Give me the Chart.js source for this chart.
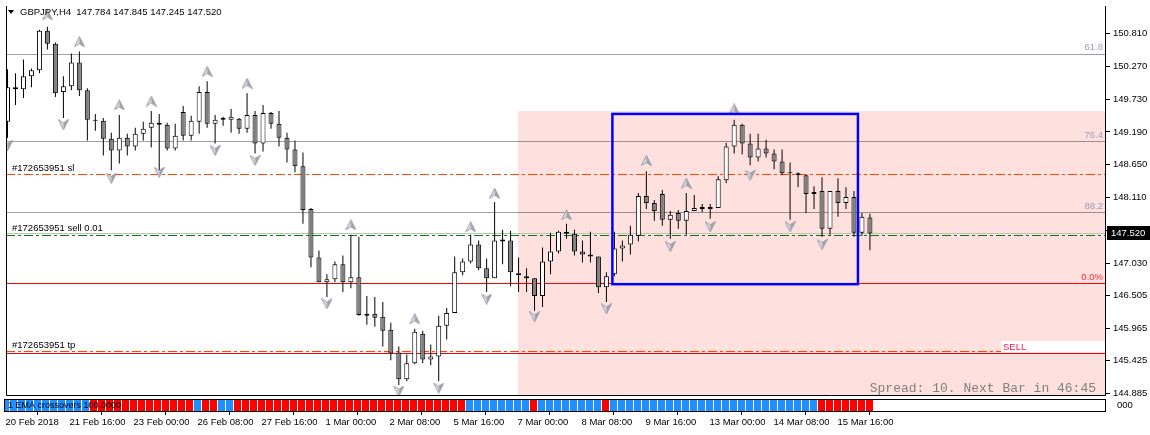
<!DOCTYPE html>
<html>
<head>
<meta charset="utf-8">
<script src="https://cdn.jsdelivr.net/npm/chart.js@4.4.1/dist/chart.umd.min.js"></script>
<style>
  html, body { margin: 0; padding: 0; background: #fff; }
  #wrap { position: relative; width: 1150px; height: 435px; overflow: hidden; }
  canvas { position: absolute; left: 0; }
  #main { top: 0; }
  #sub { top: 399px; }
</style>
</head>
<body>
<div id="wrap">
  <canvas id="main" width="1150" height="402"></canvas>
  <canvas id="sub" width="1150" height="36"></canvas>
</div>
<script>
// GBPJPY H4 candles, bar 0 = 20 Feb 2018 08:00
const opens = [
  149.356, 149.926, 149.893, 150.105, 150.203, 150.854, 150.642, 149.845, 149.942, 150.333,
  149.877, 149.389, 149.372, 149.079, 148.884, 149.096, 148.949, 149.161, 149.258, 149.340,
  149.307, 148.917, 149.519, 149.128, 149.356, 149.845, 149.324, 149.389, 149.389, 149.405,
  149.242, 149.470, 148.998, 149.503, 149.324, 149.096, 148.900, 148.624, 147.923, 147.126,
  146.719, 146.768, 147.012, 146.719, 146.800, 146.198, 146.198, 146.149, 145.937, 145.563,
  145.123, 145.384, 145.872, 145.449, 145.498, 146.002, 146.214, 146.882, 147.061, 147.337,
  146.947, 146.784, 147.419, 147.403, 146.865, 146.816, 146.784, 146.491, 147.061, 147.223,
  147.549, 147.516, 147.223, 147.175, 147.142, 146.637, 146.849, 147.272, 147.337, 147.484,
  148.135, 148.021, 148.168, 147.744, 147.858, 147.728, 147.891, 147.956, 147.956, 147.940,
  148.396, 148.949, 149.307, 148.998, 148.770, 148.917, 148.835, 148.705, 148.526, 148.510,
  148.477, 148.168, 148.217, 147.598, 148.217, 148.021, 148.119, 147.533, 147.784
];
const highs = [
  150.219, 150.154, 150.382, 150.235, 150.870, 150.919, 150.660, 150.105, 150.479, 150.512,
  149.910, 149.486, 149.421, 149.177, 149.470, 149.161, 149.258, 149.356, 149.535, 149.486,
  149.340, 149.324, 149.617, 149.454, 149.942, 150.024, 149.470, 149.438, 149.568, 149.421,
  149.828, 149.535, 149.633, 149.519, 149.535, 149.177, 149.047, 148.851, 147.940, 147.240,
  146.849, 147.061, 147.158, 147.500, 147.468, 146.491, 146.475, 146.393, 146.051, 145.661,
  145.530, 145.954, 145.921, 145.693, 146.165, 146.295, 147.142, 147.109, 147.500, 147.403,
  147.109, 148.037, 147.582, 147.565, 147.126, 146.947, 146.784, 147.289, 147.533, 147.565,
  147.679, 147.582, 147.403, 147.549, 147.142, 146.882, 147.549, 147.403, 147.647, 148.184,
  148.542, 148.070, 148.233, 147.891, 147.907, 148.184, 148.151, 148.005, 148.005, 148.461,
  149.014, 149.389, 149.324, 149.161, 149.161, 149.063, 148.900, 148.900, 148.689, 148.526,
  148.477, 148.298, 148.444, 148.217, 148.428, 148.282, 148.217, 147.858, 147.845
];
const lows = [
  149.096, 149.633, 149.747, 149.926, 150.154, 150.545, 149.763, 149.421, 149.877, 149.779,
  149.047, 149.210, 148.803, 148.558, 148.672, 148.803, 148.884, 149.047, 148.933, 148.510,
  148.884, 148.884, 149.047, 149.047, 149.161, 149.258, 148.998, 149.291, 149.177, 149.161,
  149.177, 148.835, 148.868, 149.242, 148.949, 148.689, 148.526, 147.679, 146.963, 146.719,
  146.475, 146.719, 146.556, 146.621, 146.165, 146.019, 145.986, 145.661, 145.433, 145.026,
  145.091, 145.368, 145.384, 145.351, 145.091, 145.775, 146.214, 146.833, 147.028, 146.914,
  146.556, 146.784, 147.012, 146.654, 146.556, 146.556, 146.247, 146.312, 146.849, 147.191,
  147.435, 147.158, 147.044, 147.044, 146.540, 146.393, 146.816, 147.061, 147.175, 147.386,
  147.923, 147.728, 147.647, 147.435, 147.598, 147.500, 147.891, 147.875, 147.761, 147.940,
  148.347, 148.835, 148.819, 148.640, 148.705, 148.770, 148.575, 148.477, 147.744, 148.282,
  147.858, 147.923, 147.468, 147.500, 147.793, 147.923, 147.468, 147.484, 147.245
];
const closes = [
  149.926, 149.893, 150.105, 150.203, 150.854, 150.642, 149.828, 149.942, 150.333, 149.877,
  149.389, 149.372, 149.079, 148.884, 149.096, 148.949, 149.161, 149.242, 149.340, 149.307,
  148.917, 149.128, 149.128, 149.372, 149.845, 149.324, 149.389, 149.421, 149.438, 149.242,
  149.470, 148.998, 149.503, 149.324, 149.096, 148.900, 148.624, 147.907, 147.126, 146.719,
  146.768, 147.012, 146.719, 146.800, 146.180, 146.165, 146.133, 145.921, 145.547, 145.123,
  145.384, 145.905, 145.449, 145.498, 146.002, 146.214, 146.882, 147.061, 147.337, 146.947,
  146.784, 147.403, 147.386, 146.882, 146.833, 146.784, 146.491, 147.061, 147.223, 147.549,
  147.516, 147.223, 147.175, 147.142, 146.637, 146.816, 147.272, 147.321, 147.500, 148.135,
  148.021, 147.891, 147.744, 147.826, 147.728, 147.891, 147.940, 147.923, 147.923, 148.412,
  148.949, 149.307, 148.998, 148.770, 148.917, 148.835, 148.705, 148.510, 148.510, 148.477,
  148.168, 148.200, 147.598, 148.217, 148.021, 148.119, 147.533, 147.793, 147.520
];

// fractal-style arrows (bar index, price)
const upArrowIdx   = [5, 9, 14, 18, 25, 30, 43, 51, 58, 61, 70, 80, 85, 91];
const upArrowPrice = [151.114, 150.675, 149.633, 149.698, 150.186, 149.991, 147.663, 146.116,
                      147.630, 148.184, 147.826, 148.721, 148.347, 149.568];
const downArrowIdx   = [0, 7, 13, 19, 26, 31, 40, 49, 54, 60, 66, 75, 83, 88, 93, 98, 102];
const downArrowPrice = [148.965, 149.307, 148.428, 148.526, 148.884, 148.721, 146.361, 144.928,
                        144.977, 146.442, 146.149, 146.279, 147.305, 147.630, 148.477, 147.630, 147.337];

// EMA crossovers histogram: 1 = up (blue), -1 = down (red)
const emaTrend = [
   1,  1,  1,  1,  1,  1,  1,  1,  1,  1,  1, -1, -1, -1, -1, -1, -1, -1, -1, -1,
  -1, -1, -1, -1,  1, -1, -1,  1,  1, -1, -1, -1, -1, -1, -1, -1, -1, -1, -1, -1,
  -1, -1, -1, -1, -1, -1, -1, -1, -1, -1, -1, -1, -1, -1, -1, -1, -1, -1,  1,  1,
   1,  1,  1,  1,  1,  1, -1,  1,  1,  1,  1,  1,  1,  1,  1, -1,  1,  1,  1,  1,
   1,  1,  1,  1,  1,  1,  1,  1,  1,  1,  1,  1,  1,  1,  1,  1,  1,  1,  1,  1,
   1,  1, -1, -1, -1, -1, -1, -1, -1
];
const emaValue = 100;

const yTicks = [150.810, 150.270, 149.730, 149.190, 148.650, 148.110, 147.570, 147.030,
                146.505, 145.965, 145.425, 144.885];
const dateTickIdx = [0, 8, 16, 24, 32, 40, 48, 56, 64, 72, 80, 88, 96, 104];
const dateLabels = ['20 Feb 2018', '21 Feb 16:00', '23 Feb 00:00', '26 Feb 08:00', '27 Feb 16:00',
  '1 Mar 00:00', '2 Mar 08:00', '5 Mar 16:00', '7 Mar 00:00', '8 Mar 08:00', '9 Mar 16:00',
  '13 Mar 00:00', '14 Mar 08:00', '15 Mar 16:00'];

// chart objects (price / bar index)
const fibLevels = [150.479, 149.039, 147.875];
const fibNames = ['61.8', '76.4', '88.2'];
const zeroLevel = 146.702;
const sellLevel = 145.547;
const orderId = '#172653951';
const orderOpen = 147.500, orderSL = 148.493, orderTP = 145.587;
const bidPrice = 147.520;
const zoneStart = 63.95, zoneTop = 149.535;
const boxFrom = 75.75, boxTo = 106.5, boxHigh = 149.486, boxLow = 146.686;

const xMin = -0.1875, xMax = 137.5625;
const yMin = 144.847, yMax = 151.261;

const FONT = '"Liberation Sans", Arial, sans-serif';

function makeArrow(up) {
  const c = document.createElement('canvas');
  c.width = 11; c.height = 11;
  const g = c.getContext('2d');
  if (!up) { g.translate(0, 11); g.scale(1, -1); }
  const outline = () => {
    g.beginPath();
    g.moveTo(5.5, 0.5); g.lineTo(10.5, 10.5); g.lineTo(5.5, 7.5); g.lineTo(0.5, 10.5); g.closePath();
  };
  outline();
  g.fillStyle = '#dcdce4'; g.fill();
  g.beginPath();
  g.moveTo(5.5, 0.5); g.lineTo(10.5, 10.5); g.lineTo(5.5, 7.5); g.closePath();
  g.fillStyle = '#a4a4ae'; g.fill();
  outline();
  g.strokeStyle = '#8c8c9a'; g.lineWidth = 0.8; g.stroke();
  return c;
}
const upImg = makeArrow(true);
const downImg = makeArrow(false);

function hline(ctx, y, x1, x2, color, dash) {
  const yy = Math.round(y) + 0.5;
  ctx.save();
  ctx.strokeStyle = color;
  ctx.lineWidth = 1;
  ctx.setLineDash(dash || []);
  ctx.beginPath();
  ctx.moveTo(x1, yy); ctx.lineTo(x2, yy);
  ctx.stroke();
  ctx.restore();
}

function text(ctx, str, x, y, color, font, align) {
  ctx.save();
  ctx.fillStyle = color;
  ctx.font = font;
  ctx.textAlign = align || 'left';
  ctx.textBaseline = 'middle';
  ctx.fillText(str, x, y);
  ctx.restore();
}

const DASHDOT = [9, 3, 3, 3];

const mt4Main = {
  id: 'mt4Main',
  beforeDraw(chart) {
    const ctx = chart.ctx;
    ctx.save();
    ctx.fillStyle = '#fff';
    ctx.fillRect(0, 0, chart.width, chart.height);
    ctx.restore();
  },
  beforeDatasetsDraw(chart) {
    const {ctx, chartArea: a, scales: {x, y}} = chart;
    // shaded zone
    const zx = Math.round(x.getPixelForValue(zoneStart));
    const zy = Math.round(y.getPixelForValue(zoneTop));
    ctx.save();
    ctx.fillStyle = '#fee1de';
    ctx.fillRect(zx, zy, a.right - zx, a.bottom - zy);
    ctx.restore();

    // fibo levels
    ctx.save();
    ctx.globalCompositeOperation = 'multiply';
    fibLevels.forEach(p => hline(ctx, y.getPixelForValue(p), a.left, a.right, '#a0a0a0'));
    ctx.restore();

    hline(ctx, y.getPixelForValue(bidPrice), a.left, a.right, '#c0c0c0');
    hline(ctx, y.getPixelForValue(zeroLevel), a.left, a.right, '#ff0000');
    hline(ctx, y.getPixelForValue(sellLevel), a.left, a.right, '#ff0000');
    hline(ctx, y.getPixelForValue(orderOpen), a.left, a.right, '#008000', DASHDOT);
    hline(ctx, y.getPixelForValue(orderSL), a.left, a.right, '#ff4500', DASHDOT);
    hline(ctx, y.getPixelForValue(orderTP), a.left, a.right, '#ff4500', DASHDOT);

    // SELL label box
    const sy = Math.round(y.getPixelForValue(sellLevel));
    ctx.save();
    ctx.fillStyle = '#fff';
    ctx.fillRect(1001, sy - 12, a.right - 1001, 11);
    ctx.restore();
    text(ctx, 'SELL', 1003, sy - 6, '#ff1a4a', '9.5px ' + FONT);
  },
  afterDatasetsDraw(chart) {
    const {ctx, chartArea: a, scales: {x, y}} = chart;
    // blue rectangle
    const bx1 = x.getPixelForValue(boxFrom), bx2 = x.getPixelForValue(boxTo);
    const by1 = y.getPixelForValue(boxHigh), by2 = y.getPixelForValue(boxLow);
    ctx.save();
    ctx.strokeStyle = '#0000ff';
    ctx.lineWidth = 2.5;
    ctx.strokeRect(bx1, by1, bx2 - bx1, by2 - by1);
    ctx.restore();

    const small = '9.5px ' + FONT;
    fibLevels.forEach((p, i) => {
      text(ctx, fibNames[i], a.right - 3, y.getPixelForValue(p) - 6, '#9c9cb2', small, 'right');
    });
    text(ctx, '0.0%', a.right - 3, y.getPixelForValue(zeroLevel) - 6, '#ff2a3a', small, 'right');

    text(ctx, orderId + ' sl', 12, y.getPixelForValue(orderSL) - 6, '#000', small);
    text(ctx, orderId + ' sell 0.01', 12, y.getPixelForValue(orderOpen) - 6, '#000', small);
    text(ctx, orderId + ' tp', 12, y.getPixelForValue(orderTP) - 6, '#000', small);

    // header
    ctx.save();
    ctx.fillStyle = '#000';
    ctx.beginPath();
    ctx.moveTo(8, 10); ctx.lineTo(14, 10); ctx.lineTo(11, 14); ctx.closePath();
    ctx.fill();
    ctx.restore();
    const last = opens.length - 1;
    text(ctx, 'GBPJPY,H4  ' + [opens[last], highs[last], lows[last], closes[last]].map(v => v.toFixed(3)).join(' '),
      20, 12, '#000', small);

    text(ctx, 'Spread: 10. Next Bar in 46:45', 1096, 389, '#808080', '13px "Liberation Mono", monospace', 'right');

    // frame
    ctx.save();
    ctx.strokeStyle = '#000';
    ctx.lineWidth = 1;
    ctx.beginPath();
    ctx.moveTo(a.left + 0.5, a.top); ctx.lineTo(a.left + 0.5, a.bottom - 0.5);
    ctx.lineTo(a.right - 0.5, a.bottom - 0.5); ctx.lineTo(a.right - 0.5, a.top);
    ctx.stroke();
    ctx.restore();
  },
  afterDraw(chart) {
    const {ctx, chartArea: a, scales: {y}} = chart;
    const py = Math.round(y.getPixelForValue(bidPrice));
    ctx.save();
    ctx.fillStyle = '#000';
    ctx.fillRect(a.right + 1, py - 7, chart.width - a.right - 1, 14);
    ctx.restore();
    text(ctx, bidPrice.toFixed(3), a.right + 5, py, '#fff', '9.5px ' + FONT);
  }
};

new Chart(document.getElementById('main'), {
  type: 'bar',
  data: {
    datasets: [
      {
        type: 'scatter', label: 'up',
        data: upArrowIdx.map((b, i) => ({x: b, y: upArrowPrice[i]})),
        pointStyle: upImg, pointRadius: 5, order: 0
      },
      {
        type: 'scatter', label: 'down',
        data: downArrowIdx.map((b, i) => ({x: b, y: downArrowPrice[i]})),
        pointStyle: downImg, pointRadius: 5, order: 0
      },
      {
        label: 'body',
        data: opens.map((o, i) => ({x: i, y: [o, closes[i]]})),
        backgroundColor: opens.map((o, i) => closes[i] > o ? '#ffffff' : '#808080'),
        borderColor: '#000', borderWidth: 1, borderSkipped: false,
        barThickness: 5, barPercentage: 1, categoryPercentage: 1,
        inflateAmount: 0, grouped: false, order: 1
      },
      {
        label: 'wick',
        data: lows.map((l, i) => ({x: i, y: [l, highs[i]]})),
        backgroundColor: '#000',
        barThickness: 1, barPercentage: 1, categoryPercentage: 1,
        inflateAmount: 0, grouped: false, order: 2
      }
    ]
  },
  options: {
    responsive: false, animation: false, devicePixelRatio: 1,
    layout: { padding: { left: 4, top: 4, right: 0, bottom: 4 } },
    plugins: { legend: { display: false }, tooltip: { enabled: false } },
    scales: {
      x: { type: 'linear', min: xMin, max: xMax, offset: false, display: false },
      y: {
        position: 'right', min: yMin, max: yMax,
        afterBuildTicks: s => { s.ticks = yTicks.map(v => ({value: v})); },
        afterFit: s => { s.width = 44; s.paddingTop = 0; s.paddingBottom = 0; },
        ticks: {
          callback: v => v.toFixed(3), color: '#000', autoSkip: false, padding: 3,
          font: { family: FONT, size: 9.5 }
        },
        grid: { drawOnChartArea: false, tickLength: 4, color: '#000' },
        border: { display: false }
      }
    }
  },
  plugins: [mt4Main]
});

const mt4Sub = {
  id: 'mt4Sub',
  afterDatasetsDraw(chart) {
    const {ctx, chartArea: a} = chart;
    text(ctx, '1 EMA crossovers ' + emaValue.toFixed(4), 8, a.top + 6, '#000', '9px ' + FONT);
    ctx.save();
    ctx.strokeStyle = '#000';
    ctx.lineWidth = 1;
    ctx.strokeRect(a.left + 0.5, a.top - 0.5, a.right - a.left - 1, a.bottom - a.top + 1);
    ctx.restore();
  }
};

new Chart(document.getElementById('sub'), {
  type: 'bar',
  data: {
    datasets: [{
      label: 'EMA crossovers',
      data: emaTrend.map((t, i) => ({x: i, y: [0, emaValue]})),
      backgroundColor: emaTrend.map(t => t > 0 ? '#1e90ff' : '#ff0000'),
      barThickness: 7, barPercentage: 1, categoryPercentage: 1,
      inflateAmount: 0, grouped: false
    }]
  },
  options: {
    responsive: false, animation: false, devicePixelRatio: 1,
    layout: { padding: { left: 4, top: 1, right: 0, bottom: 0 } },
    plugins: { legend: { display: false }, tooltip: { enabled: false } },
    scales: {
      x: {
        type: 'linear', min: xMin, max: xMax, offset: false,
        afterBuildTicks: s => { s.ticks = dateTickIdx.map(v => ({value: v})); },
        afterFit: s => { s.height = 24; s.paddingLeft = 0; s.paddingRight = 0; },
        ticks: {
          callback: (v, i) => dateLabels[i], align: 'start', maxRotation: 0, autoSkip: false,
          color: '#000', padding: 2, font: { family: FONT, size: 9.5 }
        },
        grid: { drawOnChartArea: false, tickLength: 4, color: '#000' },
        border: { display: false }
      },
      y: {
        position: 'right', min: 0, max: emaValue,
        afterBuildTicks: s => { s.ticks = [{value: emaValue / 2}]; },
        afterFit: s => { s.width = 44; s.paddingTop = 0; s.paddingBottom = 0; },
        ticks: { callback: () => '000', color: '#000', padding: 3, font: { family: FONT, size: 9.5 } },
        grid: { display: false },
        border: { display: false }
      }
    }
  },
  plugins: [mt4Sub]
});
</script>
</body>
</html>
